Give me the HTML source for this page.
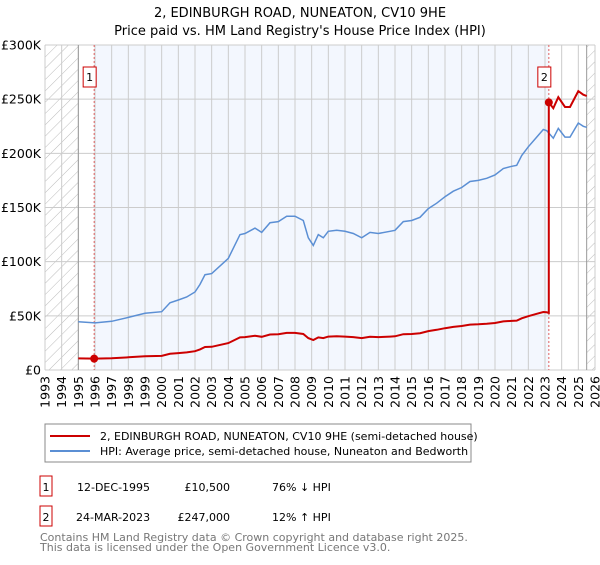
<!DOCTYPE html>
<html><head><meta charset="utf-8"><style>
body{margin:0;background:#fff;font-family:"Liberation Sans","DejaVu Sans",sans-serif;}
svg text{font-family:"DejaVu Sans","Liberation Sans",sans-serif;}
</style></head><body>
<svg id="chart" width="600" height="560" xmlns="http://www.w3.org/2000/svg">
<defs><pattern id="hatch" patternUnits="userSpaceOnUse" width="8" height="8" patternTransform="rotate(45)"><line x1="0" y1="0" x2="0" y2="8" stroke="#bbb" stroke-width="1"/></pattern></defs>
<text x="300" y="17" text-anchor="middle" font-size="13">2, EDINBURGH ROAD, NUNEATON, CV10 9HE</text>
<text x="300" y="35" text-anchor="middle" font-size="13">Price paid vs. HM Land Registry's House Price Index (HPI)</text>
<g id="plot"></g>
<g>
<rect x="45" y="424" width="426" height="38" fill="#fff" stroke="#888"/>
<line x1="50" y1="436" x2="90" y2="436" stroke="#cc0000" stroke-width="2"/>
<text x="100" y="440" font-size="11">2, EDINBURGH ROAD, NUNEATON, CV10 9HE (semi-detached house)</text>
<line x1="50" y1="451" x2="90" y2="451" stroke="#5b8fd4" stroke-width="2"/>
<text x="100" y="455" font-size="11">HPI: Average price, semi-detached house, Nuneaton and Bedworth</text>
</g>
<g font-size="11">
<rect x="40" y="476" width="12" height="20" fill="#fff" stroke="#cc0000"/><text x="46" y="491" text-anchor="middle">1</text>
<text x="77" y="491">12-DEC-1995</text><text x="230" y="491" text-anchor="end">£10,500</text><text x="272" y="491">76% ↓ HPI</text>
<rect x="40" y="506" width="12" height="20" fill="#fff" stroke="#cc0000"/><text x="46" y="521" text-anchor="middle">2</text>
<text x="76" y="521">24-MAR-2023</text><text x="230" y="521" text-anchor="end">£247,000</text><text x="272" y="521">12% ↑ HPI</text>
</g>
<text x="40" y="541" font-size="11" fill="#777">Contains HM Land Registry data © Crown copyright and database right 2025.</text>
<text x="40" y="551" font-size="11" fill="#777">This data is licensed under the Open Government Licence v3.0.</text>
</svg>
<script>
const hpiYears=[1995,1996,1997,1998,1999,2000,2000.5,2001,2001.5,2002,2002.3,2002.6,2003,2004,2004.7,2005,2005.6,2006,2006.5,2007,2007.5,2008,2008.5,2008.8,2009.1,2009.4,2009.7,2010,2010.5,2011,2011.5,2012,2012.5,2013,2013.7,2014,2014.5,2015,2015.5,2016,2016.5,2017,2017.5,2018,2018.5,2019,2019.5,2020,2020.5,2021,2021.3,2021.6,2022,2022.5,2022.9,2023.1,2023.5,2023.8,2024.2,2024.5,2025,2025.3,2025.5];
const hpiValues=[44500,43500,45000,48600,52300,53800,62000,64600,67400,72000,79000,88000,89000,103000,125000,126000,131000,127000,136000,137000,142000,142000,138000,122000,115000,125000,122000,128000,129000,128000,126000,122000,127000,126000,128000,129000,137000,138000,141000,149000,154000,160000,165000,168500,174000,175000,177000,180000,186000,188000,189000,198000,206000,215000,222000,221000,214000,223000,215000,215000,228000,225000,224000];
const saleDates=[1995.95,2023.23];
const salePrices=[10500,247000];
const saleLabels=["1","2"];
const yTicks=[0,50000,100000,150000,200000,250000,300000];
const yTickLabels=["£0","£50K","£100K","£150K","£200K","£250K","£300K"];
const xTicks=[1993,1994,1995,1996,1997,1998,1999,2000,2001,2002,2003,2004,2005,2006,2007,2008,2009,2010,2011,2012,2013,2014,2015,2016,2017,2018,2019,2020,2021,2022,2023,2024,2025,2026];

const L=45,R=595,T=45,B=370;
const X=y=>L+(y-1993)/(2026-1993)*(R-L);
const Y=v=>B-v/300000*(B-T);
const NS="http://www.w3.org/2000/svg";
const g=document.getElementById('plot');
function mk(tag,attrs,parent){const e=document.createElementNS(NS,tag);for(const k in attrs)e.setAttribute(k,attrs[k]);(parent||g).appendChild(e);return e;}
function hpiAt(t){for(let i=0;i<hpiYears.length-1;i++){if(t>=hpiYears[i]&&t<=hpiYears[i+1]){const f=(t-hpiYears[i])/(hpiYears[i+1]-hpiYears[i]);return hpiValues[i]+f*(hpiValues[i+1]-hpiValues[i]);}}return hpiValues[hpiValues.length-1];}

let e=mk('rect',{x:L,y:T,width:R-L,height:B-T,fill:'#fff'});


e=mk('rect',{x:X(saleDates[0]),y:T,width:X(saleDates[1])-X(saleDates[0]),height:B-T,fill:'#f3f7fe'});


e=mk('rect',{x:L,y:T,width:X(1995)-L,height:B-T,fill:'url(#hatch)'});


e=mk('rect',{x:X(2025.5),y:T,width:R-X(2025.5),height:B-T,fill:'url(#hatch)'});



xTicks.forEach(t=>{
  const l=mk('line',{x1:X(t),x2:X(t),y1:T,y2:B,stroke:'#ccc','stroke-width':1});
  
  
  const tx=mk('text',{transform:`translate(${X(t)+4.5},${B+6}) rotate(-90)`,'text-anchor':'end','font-size':12.5});
  tx.textContent=t;
  
  
});
yTicks.forEach((v,i)=>{
  const l=mk('line',{x1:L,x2:R,y1:Y(v),y2:Y(v),stroke:'#ccc','stroke-width':1});
  
  
  const tx=mk('text',{x:L-4,y:Y(v)+4.5,'text-anchor':'end','font-size':12.5});
  tx.textContent=yTickLabels[i];
  
  
});
[X(1995),X(2025.5)].forEach(x=>{const l=mk('line',{x1:x,x2:x,y1:T,y2:B,stroke:'#999','stroke-width':1});

});

saleDates.forEach(d=>{const l=mk('line',{x1:X(d),x2:X(d),y1:T,y2:B,stroke:'#e06060','stroke-width':1,'stroke-dasharray':'2,2'});

});

// HPI line
let p=hpiYears.map((t,i)=>(i?'L':'M')+X(t).toFixed(1)+','+Y(hpiValues[i]).toFixed(1)).join('');
e=mk('path',{d:p,fill:'none',stroke:'#5b8fd4','stroke-width':1.5});



// price paid line: indexed from sale prices via HPI
const r0=salePrices[0]/hpiAt(saleDates[0]), r1=salePrices[1]/hpiAt(saleDates[1]);
let pts=[];
hpiYears.forEach((t,i)=>{if(t<saleDates[1])pts.push([t,hpiValues[i]*r0]);});
pts.push([saleDates[1],hpiAt(saleDates[1])*r0]);
pts.push([saleDates[1],salePrices[1]]);
hpiYears.forEach((t,i)=>{if(t>saleDates[1])pts.push([t,hpiValues[i]*r1]);});
p=pts.map((q,i)=>(i?'L':'M')+X(q[0]).toFixed(1)+','+Y(q[1]).toFixed(1)).join('');
e=mk('path',{d:p,fill:'none',stroke:'#cc0000','stroke-width':2});



saleDates.forEach((d,i)=>{
  const c=mk('circle',{cx:X(d),cy:Y(salePrices[i]),r:4,fill:'#cc0000'});
  
  
  const bx=mk('rect',{x:X(d)-11,y:T+22,width:13,height:20,fill:'#fff',stroke:'#cc0000'});
  
  
  const tx=mk('text',{x:X(d)-4.5,y:T+36,'text-anchor':'middle','font-size':11});
  tx.textContent=saleLabels[i];
  
  
});
</script>
</body></html>
